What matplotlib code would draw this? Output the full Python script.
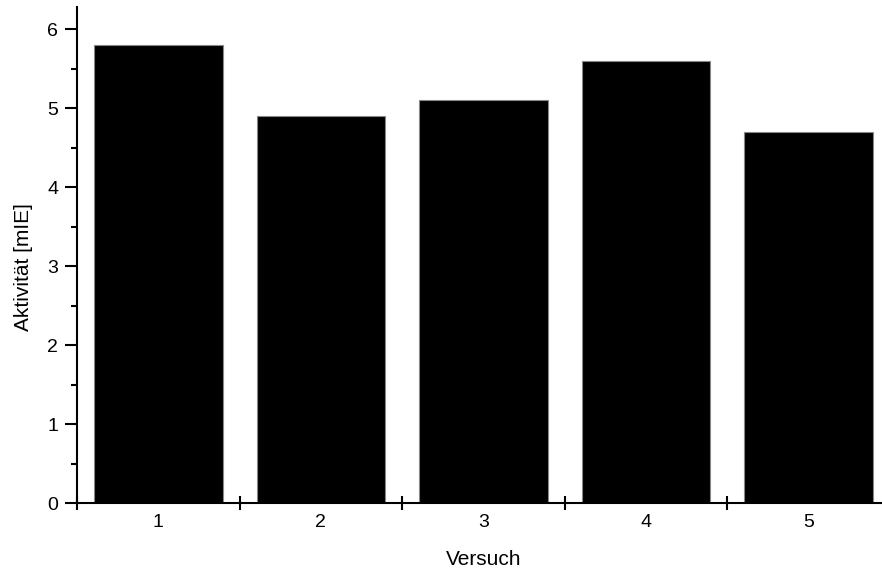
import matplotlib
matplotlib.use("Agg")
import matplotlib.pyplot as plt
from matplotlib.ticker import FixedLocator, MultipleLocator, NullFormatter

plt.rcParams["font.family"] = ["Liberation Sans", "DejaVu Sans"]

versuche = [1, 2, 3, 4, 5]
aktivitaet = [5.8, 4.9, 5.1, 5.6, 4.7]

fig = plt.figure(figsize=(8.82, 5.72), dpi=100)
ax = fig.add_axes([77 / 882, 69 / 572, 813 / 882, 496 / 572])

ax.bar(versuche, aktivitaet, width=0.79, color="black",
       edgecolor="#888888", linewidth=0.8, zorder=2)

ax.set_xlim(0.5, 5.5)
ax.set_ylim(0, 6.28)

for side in ("top", "right"):
    ax.spines[side].set_visible(False)
for side in ("left", "bottom"):
    ax.spines[side].set_linewidth(1.5)

# y axis: outward major and minor ticks
ax.yaxis.set_major_locator(MultipleLocator(1))
ax.yaxis.set_minor_locator(MultipleLocator(0.5))
ax.tick_params(axis="y", which="major", direction="out", length=8.5,
               width=1.5, labelsize=14, pad=5)
ax.tick_params(axis="y", which="minor", direction="out", length=4.5,
               width=1.5)

# x axis: ticks at category boundaries, labels at category centres
ax.xaxis.set_major_locator(FixedLocator([0.5, 1.5, 2.5, 3.5, 4.5, 5.5]))
ax.xaxis.set_major_formatter(NullFormatter())
ax.xaxis.set_minor_locator(FixedLocator(versuche))
ax.set_xticklabels([str(v) for v in versuche], minor=True)
ax.tick_params(axis="x", which="major", direction="inout", length=10,
               width=1.5)
ax.tick_params(axis="x", which="minor", length=0, labelsize=14, pad=8)

ax.set_xlabel("Versuch", fontsize=15)
ax.xaxis.set_label_coords(0.5, -47 / 496)
ax.set_ylabel("Aktivität [mIE]", fontsize=15)
ax.yaxis.set_label_coords(-44 / 813, (503 - 267.5) / 496)

fig.savefig("out.png", dpi=100)
